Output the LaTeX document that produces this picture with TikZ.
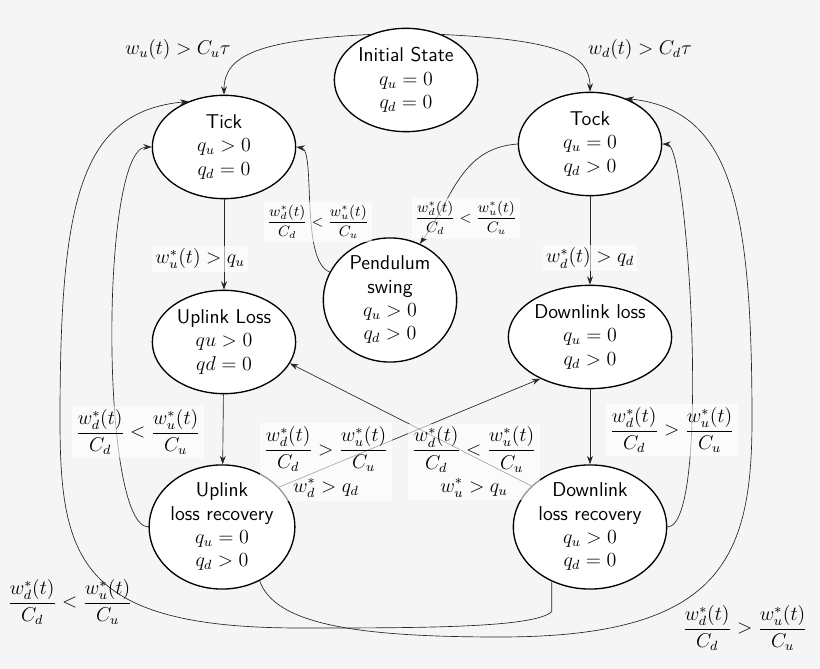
\documentclass[tikz,border=0pt]{standalone}
\usepackage{amsmath}
\usepackage{tikz}
\usetikzlibrary{arrows.meta,shapes.geometric}

\begin{document}
\begin{tikzpicture}[x=0.6pt, y=-0.6pt,
	state/.style={ellipse, draw=black, fill=white, thick, minimum width=86pt, minimum height=62pt, inner sep=0pt, align=center, font=\sffamily\large},
	edge/.style={draw=black!85, -{Stealth[length=5pt, width=3.5pt]}},
	cond/.style={fill=white, fill opacity=.6, text opacity=1, inner sep=2pt, font=\large},
	smallcond/.style={cond, font=\small}]
	\fill[black!4] (0,0) rectangle (820,669);
	\useasboundingbox (0,0) rectangle (820,669);
	% states
	\node[state] (init) at (406,80) {Initial State\\$q_u = 0$\\$q_d = 0$};
	\node[state] (tick) at (224,147) {Tick\\$q_u > 0$\\$q_d = 0$};
	\node[state] (tock) at (590,144) {Tock\\$q_u = 0$\\$q_d > 0$};
	\node[state, minimum width=80pt] (pend) at (390,300) {Pendulum\\swing\\$q_u > 0$\\$q_d > 0$};
	\node[state] (ul) at (224,342) {Uplink Loss\\$qu > 0$\\$qd = 0$};
	\node[state, minimum width=98pt] (dl) at (590,337) {Downlink loss\\$q_u = 0$\\$q_d > 0$};
	\node[state, minimum width=84pt, minimum height=62pt] (ulr) at (222,527) {Uplink\\loss recovery\\$q_u = 0$\\$q_d > 0$};
	\node[state, minimum width=92pt, minimum height=62pt] (dlr) at (590,527) {Downlink\\loss recovery\\$q_u > 0$\\$q_d = 0$};
	% transitions
	\draw[edge] (init.128) .. controls (260,40) and (224,55) .. (tick.north);
	\draw[edge] (init.52) .. controls (560,40) and (590,55) .. (tock.north);
	\draw[edge] (tick) -- (ul);
	\draw[edge] (tock) -- (dl);
	\draw[edge] (ul) -- (ulr);
	\draw[edge] (dl) -- (dlr);
	\draw[edge] (pend.155) .. controls (300,262) and (316,150) .. (tick.east);
	\draw[edge] (tock.west) .. controls (460,148) and (452,200) .. (pend.62);
	\draw[edge] (ulr.35) -- (dl.220);
	\draw[edge] (dlr.145) -- (ul.-18);
	\draw[edge] (ulr.west) .. controls (100,527) and (100,147) .. (tick.west);
	\draw[edge] (dlr.east) .. controls (712,527) and (688,145) .. (tock.east);
	\draw[edge] (dlr.235) -- ++(0,30) .. controls (535,628) and (420,628) .. (300,628)
		.. controls (80,628) and (60,560) .. (60,420) .. controls (60,200) and (80,112) .. (tick.128);
	\draw[edge] (ulr.305) .. controls (275,625) and (360,637) .. (500,637)
		.. controls (720,637) and (752,560) .. (752,420) .. controls (752,200) and (730,110) .. (tock.52);
	% conditions
	\node[font=\large] (c1) at (178,50) {$w_u(t) > C_u\tau$};
	\node[font=\large] (c2) at (640,50) {$w_d(t) > C_d\tau$};
	\node[cond] (c3) at (200,259) {$w_u^*(t) > q_u$};
	\node[cond] (c4) at (590,258) {$w_d^*(t) > q_d$};
	\node[smallcond] (c5) at (318,222) {$\dfrac{w_d^*(t)}{C_d} < \dfrac{w_u^*(t)}{C_u}$};
	\node[smallcond] (c6) at (466,218) {$\dfrac{w_d^*(t)}{C_d} < \dfrac{w_u^*(t)}{C_u}$};
	\node[cond] (c7) at (138,432) {$\dfrac{w_d^*(t)}{C_d} < \dfrac{w_u^*(t)}{C_u}$};
	\node[cond] (c8) at (672,430) {$\dfrac{w_d^*(t)}{C_d} > \dfrac{w_u^*(t)}{C_u}$};
	\node[cond, align=center] (c9) at (326,462) {$\dfrac{w_d^*(t)}{C_d} > \dfrac{w_u^*(t)}{C_u}$\\[3pt]$w_d^* > q_d$};
	\node[cond, align=center] (c10) at (474,462) {$\dfrac{w_d^*(t)}{C_d} < \dfrac{w_u^*(t)}{C_u}$\\[3pt]$w_u^* > q_u$};
	\node[font=\large] (c11) at (70,602) {$\dfrac{w_d^*(t)}{C_d} < \dfrac{w_u^*(t)}{C_u}$};
	\node[font=\large] (c12) at (745,628) {$\dfrac{w_d^*(t)}{C_d} > \dfrac{w_u^*(t)}{C_u}$};
\end{tikzpicture}
\end{document}
